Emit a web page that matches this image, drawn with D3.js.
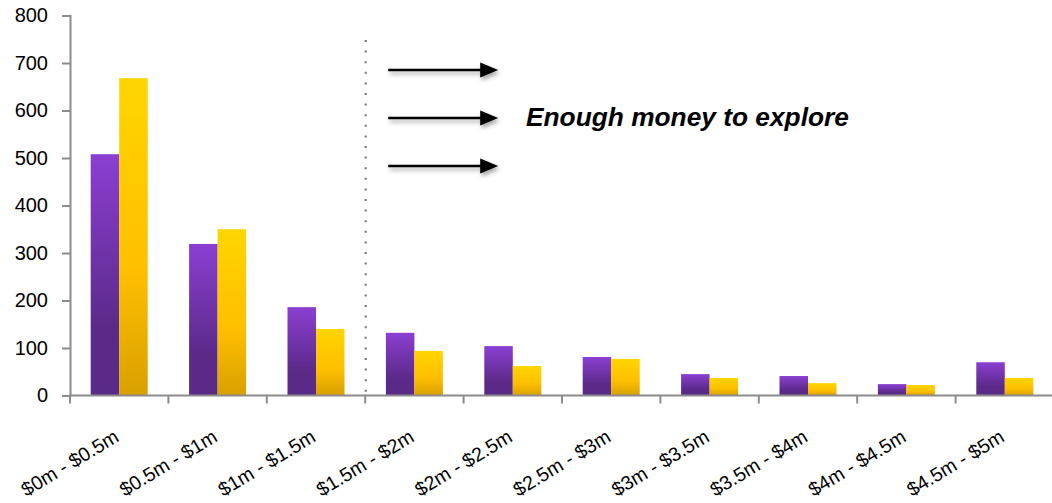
<!DOCTYPE html>
<html>
<head>
<meta charset="utf-8">
<script src="https://cdn.jsdelivr.net/npm/d3@7"></script>
<style>
  html, body { margin: 0; padding: 0; background: #fff; }
  svg { display: block; font-family: "Liberation Sans", Arial, sans-serif; }
</style>
</head>
<body>
<svg id="chart" width="1052" height="503"></svg>
<script>
// Fund-size buckets and the two series counted in each
const categories = ["$0m - $0.5m", "$0.5m - $1m", "$1m - $1.5m", "$1.5m - $2m", "$2m - $2.5m",
                    "$2.5m - $3m", "$3m - $3.5m", "$3.5m - $4m", "$4m - $4.5m", "$4.5m - $5m"];
const seriesA = [508, 319, 186, 132, 104, 81, 45, 41, 24, 70];
const seriesB = [668, 350, 140, 94, 62, 77, 37, 26, 22, 37];
const yTicks = [0, 100, 200, 300, 400, 500, 600, 700, 800];
const thresholdIndex = 3;            // bucket where the "enough money" zone starts
const noteText = "Enough money to explore";

const svg = d3.select("#chart");
const margin = { left: 70, top: 15.5, bottom: 395.5, right: 1054 };

const x = d3.scaleBand().domain(categories).range([margin.left, margin.right]).padding(0);
const inner = d3.scaleBand().domain(["a", "b"]).range([0, x.bandwidth()])
  .paddingInner(0).paddingOuter(0.726);
const y = d3.scaleLinear().domain([0, 800]).range([margin.bottom, margin.top]);

const defs = svg.append("defs");
const gradA = defs.append("linearGradient").attr("id", "gA").attr("x1", 0).attr("y1", 0).attr("x2", 0).attr("y2", 1);
gradA.append("stop").attr("offset", "0%").attr("stop-color", "#8b3fd2");
gradA.append("stop").attr("offset", "72%").attr("stop-color", "#5b2a89");
gradA.append("stop").attr("offset", "100%").attr("stop-color", "#5a2a88");
const gradB = defs.append("linearGradient").attr("id", "gB").attr("x1", 0).attr("y1", 0).attr("x2", 0).attr("y2", 1);
gradB.append("stop").attr("offset", "0%").attr("stop-color", "#ffd500");
gradB.append("stop").attr("offset", "60%").attr("stop-color", "#ffbf00");
gradB.append("stop").attr("offset", "100%").attr("stop-color", "#d8a000");

const shadow = defs.append("filter").attr("id", "shadow").attr("x", "-20%").attr("y", "-100%").attr("width", "140%").attr("height", "300%");
shadow.append("feDropShadow").attr("dx", 1.5).attr("dy", 3).attr("stdDeviation", 2)
  .attr("flood-color", "#000").attr("flood-opacity", 0.35);

// Bars
const rows = categories.map((c, i) => ({ c, a: seriesA[i], b: seriesB[i] }));
const groups = svg.append("g").selectAll("g").data(rows).join("g")
  .attr("transform", d => `translate(${x(d.c)},0)`);
groups.append("rect")
  .attr("x", inner("a")).attr("width", inner.bandwidth())
  .attr("y", d => y(d.a)).attr("height", d => y(0) - y(d.a))
  .attr("fill", "url(#gA)");
groups.append("rect")
  .attr("x", inner("b")).attr("width", inner.bandwidth())
  .attr("y", d => y(d.b)).attr("height", d => y(0) - y(d.b))
  .attr("fill", "url(#gB)");

const axisColor = "#8c8c8c";

// Y axis
const yAxis = svg.append("g").attr("transform", `translate(${margin.left},0)`)
  .call(d3.axisLeft(y).tickValues(yTicks).tickSize(8).tickPadding(14));
yAxis.select(".domain").attr("stroke", axisColor).attr("stroke-width", 2);
yAxis.selectAll(".tick line").attr("stroke", axisColor).attr("stroke-width", 2);
yAxis.selectAll(".tick text").attr("fill", "#000").attr("font-size", 20)
  .attr("font-family", "Liberation Sans, Arial, sans-serif");

// X axis: baseline, boundary ticks and rotated bucket labels
const xAxis = svg.append("g").attr("transform", `translate(0,${y(0)})`);
xAxis.append("line").attr("x1", margin.left - 1).attr("x2", 1052)
  .attr("stroke", axisColor).attr("stroke-width", 2);
const edges = categories.map(c => x(c)).concat([x(categories[categories.length - 1]) + x.bandwidth()]);
xAxis.selectAll("line.edge").data(edges).join("line").attr("class", "edge")
  .attr("x1", d => d).attr("x2", d => d).attr("y1", 0).attr("y2", 8)
  .attr("stroke", axisColor).attr("stroke-width", 2);
xAxis.selectAll("text").data(categories).join("text")
  .attr("transform", d => `translate(${x(d) + x.bandwidth() / 2 + 1},45) rotate(-31)`)
  .attr("text-anchor", "end")
  .attr("font-size", 19.5)
  .attr("fill", "#000")
  .text(d => d);

// Dotted divider at the start of the threshold bucket
const xDiv = x(categories[thresholdIndex]);
svg.append("line")
  .attr("x1", xDiv + 0.5).attr("x2", xDiv + 0.5)
  .attr("y1", 40).attr("y2", y(0) - 3)
  .attr("stroke", "#6f6f6f").attr("stroke-width", 2)
  .attr("stroke-dasharray", "2 8.6");

// Arrows pointing into the zone
const arrowYs = [70, 118, 166];
const arrows = svg.append("g").attr("filter", "url(#shadow)");
arrowYs.forEach(ay => {
  arrows.append("line").attr("x1", xDiv + 23).attr("x2", xDiv + 120)
    .attr("y1", ay).attr("y2", ay).attr("stroke", "#000").attr("stroke-width", 2.5);
  arrows.append("path")
    .attr("d", `M${xDiv + 133},${ay} L${xDiv + 115},${ay - 7.5} L${xDiv + 115},${ay + 7.5} Z`)
    .attr("fill", "#000");
});

svg.append("text")
  .attr("x", 526).attr("y", 126)
  .attr("font-size", 26.3).attr("font-weight", "bold").attr("font-style", "italic")
  .attr("fill", "#000")
  .text(noteText);
</script>
</body>
</html>
